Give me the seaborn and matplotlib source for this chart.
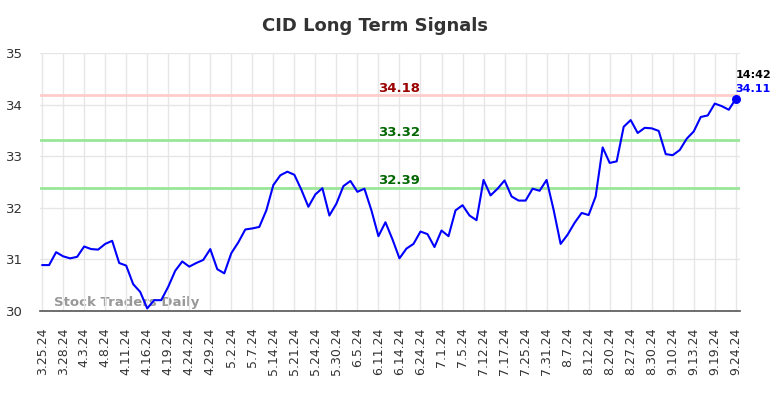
import numpy as np
import pandas as pd
import matplotlib
matplotlib.use("Agg")
import matplotlib.pyplot as plt
import seaborn as sns

# Closing prices (one per trading day)
prices = [30.89, 30.89, 31.14, 31.06, 31.02, 31.05, 31.25, 31.20, 31.19, 31.30,
          31.36, 30.93, 30.88, 30.52, 30.37, 30.05, 30.21, 30.21, 30.47, 30.78,
          30.96, 30.86, 30.93, 30.99, 31.20, 30.81, 30.73, 31.12, 31.33, 31.58,
          31.60, 31.63, 31.95, 32.44, 32.63, 32.70, 32.64, 32.35, 32.02, 32.26,
          32.38, 31.85, 32.08, 32.42, 32.52, 32.31, 32.37, 31.95, 31.45, 31.72,
          31.39, 31.02, 31.21, 31.30, 31.54, 31.49, 31.24, 31.56, 31.45, 31.95,
          32.05, 31.85, 31.76, 32.54, 32.24, 32.37, 32.53, 32.22, 32.14, 32.14,
          32.37, 32.33, 32.54, 31.96, 31.30, 31.48, 31.71, 31.90, 31.86, 32.22,
          33.17, 32.87, 32.90, 33.57, 33.70, 33.45, 33.55, 33.54, 33.49, 33.04,
          33.02, 33.12, 33.34, 33.48, 33.76, 33.79, 34.02, 33.97, 33.90, 34.11]

tick_labels = ["3.25.24", "3.28.24", "4.3.24", "4.8.24", "4.11.24", "4.16.24",
               "4.19.24", "4.24.24", "4.29.24", "5.2.24", "5.7.24", "5.14.24",
               "5.21.24", "5.24.24", "5.30.24", "6.5.24", "6.11.24", "6.14.24",
               "6.24.24", "7.1.24", "7.5.24", "7.12.24", "7.17.24", "7.25.24",
               "7.31.24", "8.7.24", "8.12.24", "8.20.24", "8.27.24", "8.30.24",
               "9.10.24", "9.13.24", "9.19.24", "9.24.24"]
tick_step = 3

# Signal levels
resistance = 34.18
supports = [33.32, 32.39]
last_time = "14:42"

df = pd.DataFrame({"day": np.arange(len(prices)), "price": prices})

sns.set_style("whitegrid")
plt.rcParams['font.family'] = ['DejaVu Sans']

fig = plt.figure(figsize=(7.84, 3.98), dpi=100)
ax = fig.add_axes([40/784, 1 - 311/398, 700/784, 258/398])

# Price line
sns.lineplot(data=df, x="day", y="price", color="blue", linewidth=1.5, ax=ax)

# Signal lines
ax.axhline(resistance, color="#ffcccc", linewidth=2, zorder=1)
for s in supports:
    ax.axhline(s, color="#99e699", linewidth=2, zorder=1)

label_x = 51
ax.text(label_x, resistance + 0.015, f"{resistance:.2f}", color="#990000",
        fontsize=9.5, fontweight="bold", ha="center", va="bottom")
for s in supports:
    ax.text(label_x, s + 0.015, f"{s:.2f}", color="#006600",
            fontsize=9.5, fontweight="bold", ha="center", va="bottom")

# Last point marker and annotation
last_i = len(prices) - 1
ax.scatter([last_i], [prices[-1]], color="blue", s=30, zorder=5)
ax.text(last_i, prices[-1] + 0.36, last_time, color="black", fontsize=8,
        fontweight="bold", ha="left", va="bottom")
ax.text(last_i, prices[-1] + 0.09, f"{prices[-1]:.2f}", color="blue", fontsize=8,
        fontweight="bold", ha="left", va="bottom")

# Watermark
ax.text(1.7, 30.03, "Stock Traders Daily", color="#999999", fontsize=9.5,
        fontweight="bold", ha="left", va="bottom", zorder=0)

# Axes styling
ax.set_xlim(-0.3, 99.6)
ax.set_ylim(30, 35)
ax.set_yticks([30, 31, 32, 33, 34, 35])
ax.set_xticks(np.arange(0, len(prices), tick_step))
ax.set_xticklabels(tick_labels, rotation=90)
ax.tick_params(axis="x", length=0, pad=12, labelsize=9, labelcolor="#333333")
ax.tick_params(axis="y", length=0, pad=12, labelsize=9.5, labelcolor="#333333")
ax.set_xlabel("")
ax.set_ylabel("")
ax.grid(True, color="#e6e6e6", linewidth=1)
for side in ["left", "right", "top"]:
    ax.spines[side].set_visible(False)
ax.spines["bottom"].set_color("#555555")
ax.spines["bottom"].set_linewidth(1.2)

fig.text(375/784, 1 - 26/398, "CID Long Term Signals", fontsize=13,
         fontweight="bold", color="#333333", ha="center", va="center")

fig.savefig("out.png", dpi=100)
